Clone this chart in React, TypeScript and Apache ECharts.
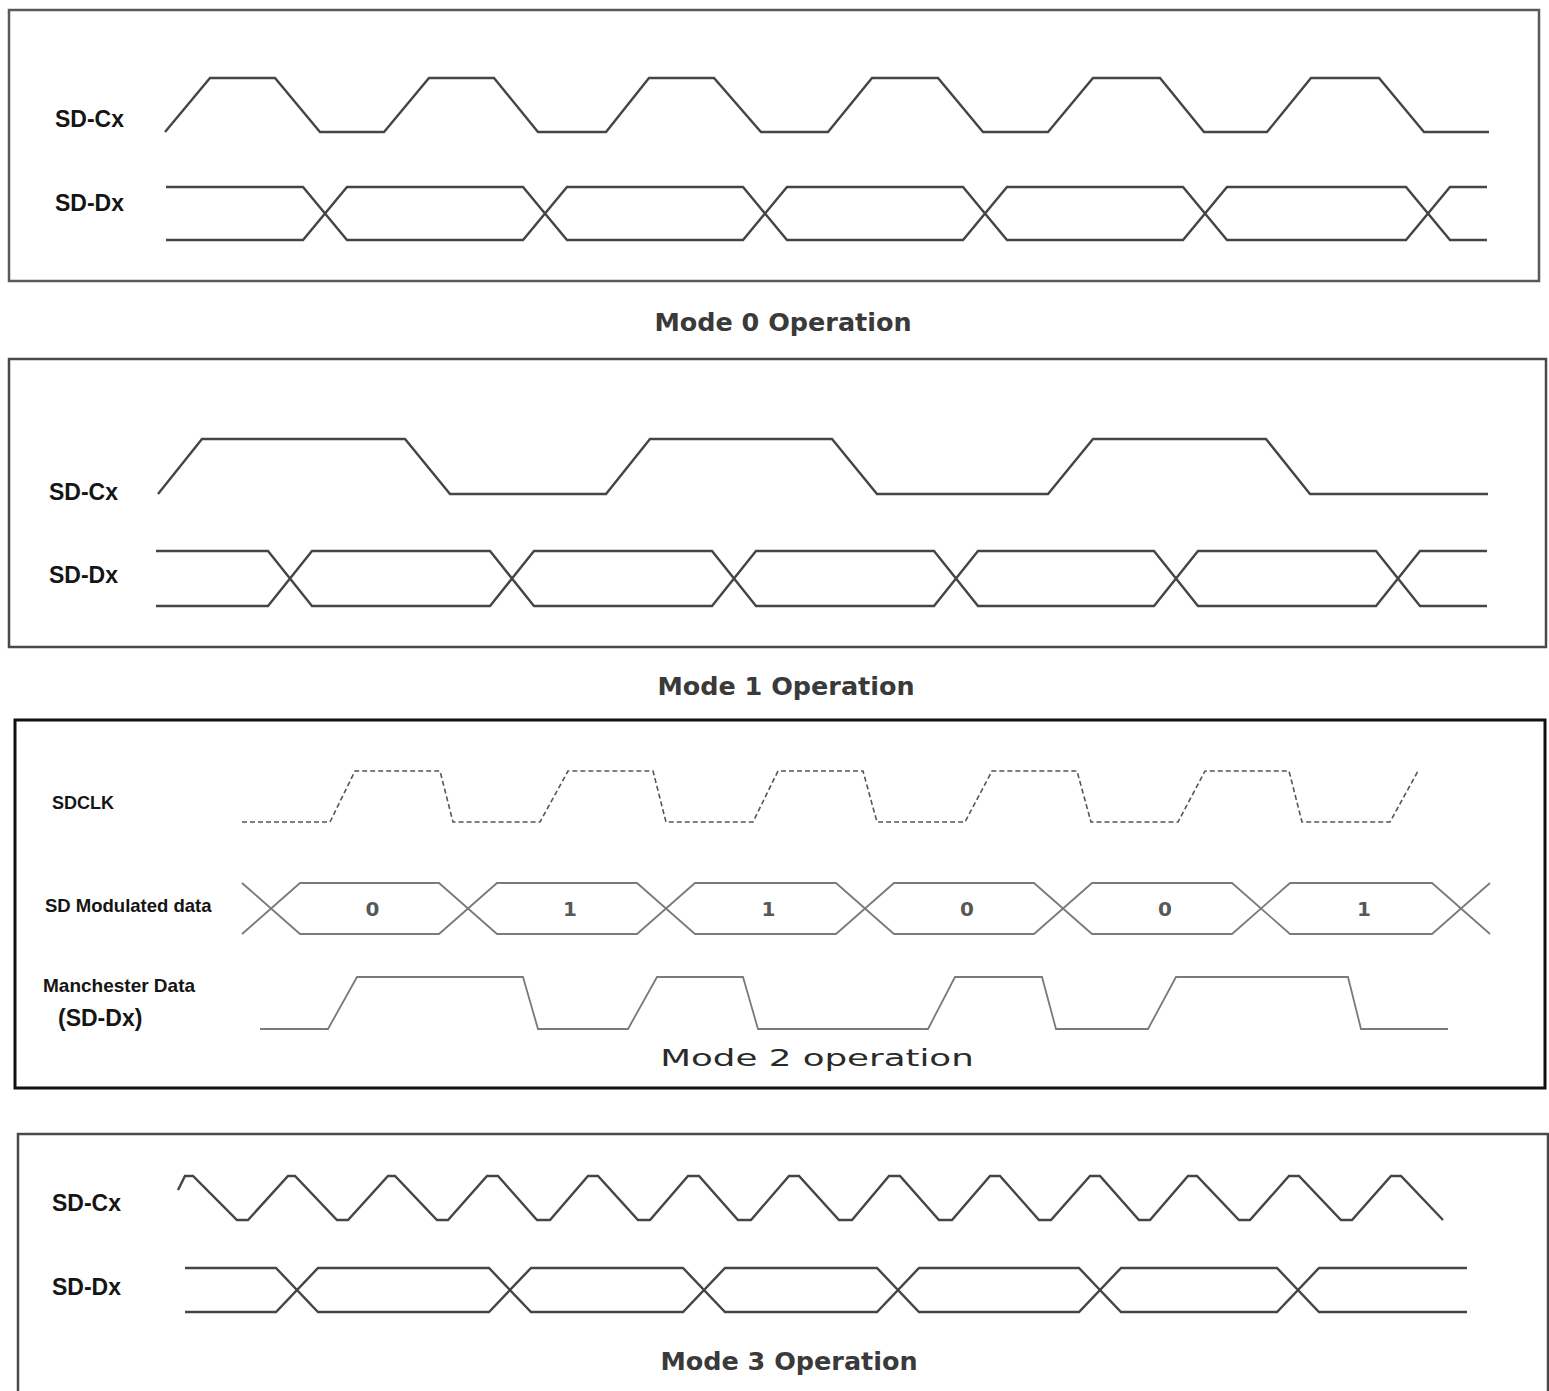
import React, { useEffect, useRef } from "react";
import * as echarts from "echarts";

const W = 1549;
const H = 1391;

// ---------- Mode 0 ----------
const m0CxTimes = [165, 210, 275, 320, 384, 429, 494, 538, 606, 649, 714, 761, 828, 872, 938, 983, 1048, 1093, 1160, 1204, 1267, 1311, 1379, 1424, 1489];
const m0CxLevels = [0, 1, 1, 0, 0, 1, 1, 0, 0, 1, 1, 0, 0, 1, 1, 0, 0, 1, 1, 0, 0, 1, 1, 0, 0];
const m0DxCross = [325, 545, 765, 985, 1205, 1428];
const m0DxSpan = [166, 1487];

// ---------- Mode 1 ----------
const m1CxTimes = [158, 202, 405, 450, 606, 650, 832, 877, 1048, 1093, 1266, 1310, 1488];
const m1CxLevels = [0, 1, 1, 0, 0, 1, 1, 0, 0, 1, 1, 0, 0];
const m1DxCross = [290, 512, 734, 956, 1176, 1398];
const m1DxSpan = [156, 1487];

// ---------- Mode 2 ----------
const m2ClkTimes = [242, 330, 355, 440, 453, 540, 568, 653, 666, 753, 778, 863, 877, 965, 992, 1077, 1091, 1178, 1205, 1289, 1302, 1390, 1418];
const m2ClkLevels = [0, 0, 1, 1, 0, 0, 1, 1, 0, 0, 1, 1, 0, 0, 1, 1, 0, 0, 1, 1, 0, 0, 1];
const m2DataCross = [271, 468, 666, 865, 1063, 1261, 1461];
const m2DataBits = ["0", "1", "1", "0", "0", "1"];
const m2ManTimes = [260, 328, 357, 523, 538, 628, 657, 743, 758, 928, 955, 1042, 1056, 1148, 1176, 1348, 1361, 1448];
const m2ManLevels = [0, 0, 1, 1, 0, 0, 1, 1, 0, 0, 1, 1, 0, 0, 1, 1, 0, 0];

// ---------- Mode 3 ----------
const m3CxTimes = [178, 185, 193, 237, 248, 288, 295, 337, 348, 388, 395, 437, 448, 487, 498, 537, 550, 588, 598, 638, 650, 688, 699, 738, 751, 789, 799, 839, 852, 889, 900, 939, 952, 990, 1000, 1039, 1051, 1090, 1100, 1139, 1150, 1188, 1197, 1239, 1250, 1289, 1299, 1341, 1352, 1391, 1401, 1443];
const m3CxLevels = [0.68, 1, 1, 0, 0, 1, 1, 0, 0, 1, 1, 0, 0, 1, 1, 0, 0, 1, 1, 0, 0, 1, 1, 0, 0, 1, 1, 0, 0, 1, 1, 0, 0, 1, 1, 0, 0, 1, 1, 0, 0, 1, 1, 0, 0, 1, 1, 0, 0, 1, 1, 0];
const m3DxCross = [297, 510, 704, 898, 1100, 1298];
const m3DxSpan = [185, 1467];

// ---------- texts ----------
const signalLabels = [
  { text: "SD-Cx", x: 55, y: 119, size: 23 },
  { text: "SD-Dx", x: 55, y: 203, size: 23 },
  { text: "SD-Cx", x: 49, y: 492, size: 23 },
  { text: "SD-Dx", x: 49, y: 575, size: 23 },
  { text: "SDCLK", x: 52, y: 803, size: 18 },
  { text: "SD Modulated data", x: 45, y: 905, size: 18.5 },
  { text: "Manchester Data", x: 43, y: 985, size: 19 },
  { text: "(SD-Dx)", x: 58, y: 1018, size: 23 },
  { text: "SD-Cx", x: 52, y: 1203, size: 23 },
  { text: "SD-Dx", x: 52, y: 1287, size: 23 },
];
const modeTitles = [
  { text: "Mode 0 Operation", x: 783, y: 323 },
  { text: "Mode 1 Operation", x: 786, y: 687 },
  { text: "Mode 3 Operation", x: 789, y: 1362 },
];
const mode2Title = { text: "Mode 2 operation", x: 817, y: 1058 };

// ---------- layout (positions / styles) ----------
const frames = [
  { x: 9, y: 10, w: 1530, h: 271, color: "#5a5a5a", lw: 2.5 },
  { x: 9, y: 359, w: 1537, h: 288, color: "#4a4a4a", lw: 2.5 },
  { x: 15, y: 720, w: 1530, h: 368, color: "#111111", lw: 3 },
  { x: 18, y: 1134, w: 1530, h: 300, color: "#4a4a4a", lw: 2.5 },
];

const DARK = { color: "#454545", width: 2.4 };
const LIGHT = { color: "#7a7a7a", width: 1.8 };

function wave(times: number[], levels: number[]) {
  return times.map((t, i) => [t, levels[i]]);
}

function bus(cross: number[], half: number, startLevel: number, span: number[] | null) {
  const pts: number[][] = [];
  let a = startLevel;
  if (span) pts.push([span[0], a]);
  cross.forEach((c) => {
    pts.push([c - half, a]);
    pts.push([c + half, 1 - a]);
    a = 1 - a;
  });
  if (span) pts.push([span[1], a]);
  return pts;
}

type Row = { top: number; bottom: number; lines: { data: number[][]; style: any }[]; bits?: any[] };

export default function App() {
  const ref = useRef<HTMLDivElement>(null);
  useEffect(() => {
    if (!ref.current) return;
    const chart = echarts.init(ref.current, null, { renderer: "svg", width: W, height: H });

    const dashed = { color: "#555", width: 1.6, type: [5, 3] };

    const rows: Row[] = [
      { top: 78, bottom: 132, lines: [{ data: wave(m0CxTimes, m0CxLevels), style: DARK }] },
      {
        top: 187, bottom: 240,
        lines: [
          { data: bus(m0DxCross, 22, 1, m0DxSpan), style: DARK },
          { data: bus(m0DxCross, 22, 0, m0DxSpan), style: DARK },
        ],
      },
      { top: 439, bottom: 494, lines: [{ data: wave(m1CxTimes, m1CxLevels), style: DARK }] },
      {
        top: 551, bottom: 606,
        lines: [
          { data: bus(m1DxCross, 22, 1, m1DxSpan), style: DARK },
          { data: bus(m1DxCross, 22, 0, m1DxSpan), style: DARK },
        ],
      },
      { top: 771, bottom: 822, lines: [{ data: wave(m2ClkTimes, m2ClkLevels), style: dashed }] },
      {
        top: 883, bottom: 934,
        lines: [
          { data: bus(m2DataCross, 29, 1, null), style: LIGHT },
          { data: bus(m2DataCross, 29, 0, null), style: LIGHT },
        ],
        bits: m2DataBits.map((b, i) => [(m2DataCross[i] + m2DataCross[i + 1]) / 2 + 3, 0.5, b]),
      },
      { top: 977, bottom: 1029, lines: [{ data: wave(m2ManTimes, m2ManLevels), style: LIGHT }] },
      { top: 1176, bottom: 1220, lines: [{ data: wave(m3CxTimes, m3CxLevels), style: DARK }] },
      {
        top: 1268, bottom: 1312,
        lines: [
          { data: bus(m3DxCross, 21, 1, m3DxSpan), style: DARK },
          { data: bus(m3DxCross, 21, 0, m3DxSpan), style: DARK },
        ],
      },
    ];

    const grid: any[] = [];
    const xAxis: any[] = [];
    const yAxis: any[] = [];
    const series: any[] = [];
    rows.forEach((r, i) => {
      grid.push({ left: 0, width: W, top: r.top, height: r.bottom - r.top, show: false });
      xAxis.push({ type: "value", gridIndex: i, min: 0, max: W, show: false });
      yAxis.push({ type: "value", gridIndex: i, min: 0, max: 1, show: false });
      r.lines.forEach((l) => {
        series.push({
          type: "line",
          xAxisIndex: i,
          yAxisIndex: i,
          data: l.data,
          symbol: "none",
          clip: false,
          silent: true,
          lineStyle: { color: l.style.color, width: l.style.width, type: l.style.type || "solid", join: "miter" },
        });
      });
      if (r.bits) {
        series.push({
          type: "scatter",
          xAxisIndex: i,
          yAxisIndex: i,
          data: r.bits,
          symbolSize: 1,
          itemStyle: { color: "transparent" },
          silent: true,
          label: {
            show: true,
            position: "inside",
            formatter: (p: any) => p.value[2],
            fontFamily: "DejaVu Sans",
            fontWeight: "bold",
            fontSize: 20,
            color: "#2a2a2a",
          },
        });
      }
    });

    const graphic: any[] = [];
    frames.forEach((f) => {
      graphic.push({
        type: "rect",
        shape: { x: f.x, y: f.y, width: f.w, height: f.h },
        style: { fill: "transparent", stroke: f.color, lineWidth: f.lw },
        silent: true,
      });
    });
    signalLabels.forEach((s) => {
      graphic.push({
        type: "text",
        x: s.x,
        y: s.y,
        style: {
          text: s.text,
          font: `bold ${s.size}px "Liberation Sans", Arial, sans-serif`,
          fill: "#151515",
          textAlign: "left",
          textVerticalAlign: "middle",
        },
        silent: true,
      });
    });
    modeTitles.forEach((t) => {
      graphic.push({
        type: "text",
        x: t.x,
        y: t.y,
        scaleX: 1.04,
        style: {
          text: t.text,
          font: `bold 24.5px "DejaVu Sans", Verdana, sans-serif`,
          fill: "#3a3a3a",
          textAlign: "center",
          textVerticalAlign: "middle",
        },
        silent: true,
      });
    });
    graphic.push({
      type: "text",
      x: mode2Title.x,
      y: mode2Title.y,
      scaleX: 1.55,
      style: {
        text: mode2Title.text,
        font: `23px "DejaVu Sans", sans-serif`,
        fill: "#2a2a2a",
        textAlign: "center",
        textVerticalAlign: "middle",
      },
      silent: true,
    });

    chart.setOption({
      animation: false,
      backgroundColor: "#ffffff",
      grid,
      xAxis,
      yAxis,
      series,
      graphic,
    });
    return () => chart.dispose();
  }, []);
  return (
    <div
      ref={ref}
      style={{ position: "fixed", left: 0, top: 0, width: W, height: H, background: "#fff" }}
    />
  );
}
